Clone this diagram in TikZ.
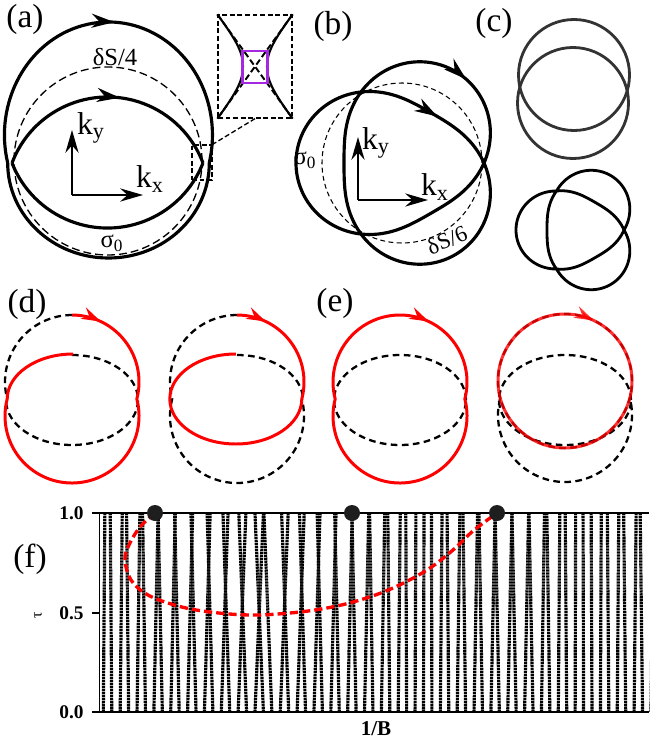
\documentclass[tikz,border=0pt]{standalone}
\usepackage{fontspec}
\setmainfont{Liberation Serif}
\usetikzlibrary{arrows.meta,decorations.markings}
\definecolor{cPurple}{RGB}{165,40,225}
\definecolor{cDot}{RGB}{30,30,30}
\tikzset{
  panlabel/.style={inner sep=0pt,font=\fontsize{19}{19}\selectfont},
  klabel/.style={inner sep=0pt,font=\fontsize{18}{18}\selectfont},
  arealabel/.style={inner sep=0pt,font=\fontsize{14}{14}\selectfont},
  fsline/.style={line width=1.8pt},
  fsdash/.style={line width=0.75pt,dash pattern=on 4.5pt off 2.3pt},
  fsdashthin/.style={line width=0.6pt,dash pattern=on 2.8pt off 1.9pt},
  kaxis/.style={-{Stealth[length=13pt,width=7.5pt]},line width=0.95pt},
  midarr/.style={postaction={decorate},decoration={markings,
      mark=at position #1 with {\arrow{Stealth[length=13pt,width=8pt]}}}},
  redarr/.style={postaction={decorate},decoration={markings,
      mark=at position #1 with {\arrow{Stealth[length=11pt,width=7pt]}}}},
  insetbox/.style={draw,rectangle,inner sep=0pt,line width=0.75pt,
                   dash pattern=on 2.8pt off 1.5pt},
  xdiag/.style={line width=1.1pt,dash pattern=on 3.5pt off 1.8pt},
  gapline/.style={line width=1.2pt},
  gapbox/.style={draw=cPurple,rectangle,inner sep=0pt,line width=1.5pt,
                 minimum width=0.5cm,minimum height=0.64cm},
  knotline/.style={line width=1.6pt},
  orbdash/.style={line width=1.3pt,dash pattern=on 3.8pt off 2.5pt},
  orbred/.style={red,line width=1.7pt},
  levelline/.style={line width=1.8pt,dash pattern=on 1.3pt off 0.4pt},
  plotaxis/.style={line width=0.95pt},
  ticklab/.style={inner sep=0pt,anchor=east,
                  font=\fontsize{11}{11}\selectfont\bfseries},
  guide/.style={red,line width=1.9pt,dash pattern=on 4.7pt off 2.3pt},
  bdot/.style={circle,fill=cDot,inner sep=0pt,minimum size=0.32cm}
}
\begin{document}
\begin{tikzpicture}[x=0.02cm,y=0.02cm]

  \useasboundingbox (0,0) rectangle (649,-743);

  \node[panlabel] (la) at (25,-19) {(a)};
  \draw[fsdash] (108,-161) circle[radius=94];
  \draw[fsline,midarr=0.515] (7.7,-163)
      arc[start angle=194.35,end angle=-14.35,x radius=104,y radius=113];
  \draw[fsline] (209.3,-163)
      arc[start angle=0,end angle=-180,x radius=100.8,y radius=95];
  \draw[fsline,midarr=0.55] (12,-163)
      arc[start angle=159.3,end angle=20.7,radius=102.1];
  \draw[fsline] (203,-163)
      arc[start angle=-21.5,end angle=-158.5,radius=102.65];
  \node[arealabel] (dsa) at (115,-57) {δS/4};
  \node[arealabel] (sga) at (112,-243) {σ\textsubscript{0}};

  \coordinate (kaO) at (72,-195);
  \coordinate (kaX) at (143,-195);
  \coordinate (kaY) at (72,-130);
  \draw[kaxis] (kaO) -- (kaX);
  \draw[kaxis] (kaO) -- (kaY);
  \node[klabel] (kya) at (91,-128) {k\textsubscript{y}};
  \node[klabel] (kxa) at (150,-179) {k\textsubscript{x}};

  \node[insetbox,minimum width=0.4cm,minimum height=0.7cm] (zoombox)
      at (202,-162.5) {};
  \node[insetbox,minimum width=1.48cm,minimum height=2.06cm] (inset)
      at (255,-66.5) {};
  \draw[insetbox] (inset.south) -- (zoombox.north east);
  \draw[xdiag] (inset.north west) -- (inset.south east);
  \draw[xdiag] (inset.north east) -- (inset.south west);
  \draw[gapline] (inset.north west) .. controls (236,-40) and (243,-52) ..
      (243,-66.5) .. controls (243,-81) and (236,-93) .. (inset.south west);
  \draw[gapline] (inset.north east) .. controls (274,-40) and (267,-52) ..
      (267,-66.5) .. controls (267,-81) and (274,-93) .. (inset.south east);
  \node[gapbox] (gap) at (255,-67) {};

  \node[panlabel] (lb) at (333,-26) {(b)};
  \draw[fsdashthin] (402,-163) circle[radius=80];
  \draw[fsline,midarr=0.855] plot[domain=0:-360,samples=361]
      ({402+(82+24*abs(sin(1.5*\x)))*cos(\x)},
       {-163+(82+24*abs(sin(1.5*\x)))*sin(\x)}) -- cycle;
  \draw[fsline,midarr=0.85] plot[domain=0:-360,samples=361]
      ({402+(82-24*abs(sin(1.5*\x)))*cos(\x)},
       {-163+(82-24*abs(sin(1.5*\x)))*sin(\x)}) -- cycle;
  \node[arealabel] (sgb) at (305,-160) {σ\textsubscript{0}};
  \node[arealabel,rotate=22,font=\fontsize{13}{13}\selectfont] (dsb)
      at (447,-240) {δS/6};

  \coordinate (kbO) at (358,-200);
  \coordinate (kbX) at (428,-200);
  \coordinate (kbY) at (358,-137);
  \draw[kaxis] (kbO) -- (kbX);
  \draw[kaxis] (kbO) -- (kbY);
  \node[klabel] (kyb) at (376,-143) {k\textsubscript{y}};
  \node[klabel] (kxb) at (435,-187) {k\textsubscript{x}};

  \node[panlabel] (lc) at (494,-23) {(c)};
  \draw[knotline,black!80] (574,-75) circle[radius=55.5];
  \draw[knotline,black!80] (573,-103) circle[radius=55.5];
  \draw[knotline] plot[domain=0:720,samples=721]
      ({579+(45+(sin(1.5*\x)>0 ? 18 : 13)*sin(1.5*\x))*cos(\x)},
       {-230+(45+(sin(1.5*\x)>0 ? 18 : 13)*sin(1.5*\x))*sin(\x)}) -- cycle;

  \node[panlabel] (ld) at (27,-304) {(d)};
  \draw[orbdash] (72,-315) arc[start angle=90,end angle=194.7,radius=67];
  \draw[orbdash] (72,-355)
      arc[start angle=90,end angle=-180,x radius=66,y radius=45];
  \draw[orbred,redarr=17pt] (72,-315)
      arc[start angle=90,end angle=-14.7,radius=67]
      arc[start angle=14.7,end angle=-194.7,radius=67]
      arc[start angle=180,end angle=90,x radius=66,y radius=45];

  \draw[orbdash] (237,-315) arc[start angle=90,end angle=194.7,radius=67];
  \draw[orbdash] (172.2,-399) arc[start angle=165.3,end angle=374.7,radius=67];
  \draw[orbdash] (237,-355)
      arc[start angle=90,end angle=0,x radius=66,y radius=45];
  \draw[orbred,redarr=17pt] (237,-315)
      arc[start angle=90,end angle=-14.7,radius=67]
      arc[start angle=0,end angle=-270,x radius=66,y radius=45];

  \node[panlabel] (le) at (335,-303) {(e)};
  \draw[orbdash] (400,-400) ellipse[x radius=66,y radius=45];
  \draw[orbred,redarr=17pt] (400,-315)
      arc[start angle=90,end angle=-14.7,radius=67]
      arc[start angle=14.7,end angle=-194.7,radius=67]
      arc[start angle=194.7,end angle=90,radius=67];

  \draw[orbdash] (565,-381) circle[radius=67];
  \draw[orbdash] (565,-400) ellipse[x radius=66,y radius=45];
  \draw[orbdash] (500.2,-398) arc[start angle=165.3,end angle=374.7,radius=67];
  \draw[orbred,opacity=0.8,redarr=17pt] (565,-314)
      arc[start angle=90,end angle=-270,radius=67];

  \node[panlabel] (lf) at (30,-559) {(f)};
  \foreach \m/\s in {0/0.09,1/0.12,2/0.17,3/0.25,4/0.27,5/0.3,6/0.34,
      7/0.4,8/0.46,9/0.5,10/-0.47,11/-0.42,12/-0.36,13/-0.31,14/-0.27,
      15/-0.25,16/-0.2,17/-0.12,18/-0.05,19/0.03,20/0.1,21/0.16,22/0.21,
      23/0.25,24/0.25,25/0.24,26/0.18,27/0.09,28/0.03,29/-0.05,30/-0.09,
      31/-0.12,32/-0.14}{
    \pgfmathsetmacro\cc{158.1+(\m-3)*16.85}
    \draw[levelline] (\cc-4.21,-712) -- (\cc-4.21+\s*16.85,-513);
    \draw[levelline] (\cc+4.21,-712) -- (\cc+4.21-\s*16.85,-513);
  }
  \draw[plotaxis] (92,-513) -- (649,-513);
  \draw[plotaxis] (92,-712) -- (649,-712);
  \draw[plotaxis] (99.5,-513) -- (99.5,-712);
  \draw[plotaxis] (92,-613) -- (99.5,-613);
  \node[ticklab] (t10) at (84,-513) {1.0};
  \node[ticklab] (t05) at (84,-613) {0.5};
  \node[ticklab] (t00) at (84,-712) {0.0};
  \node[inner sep=0pt,rotate=90,font=\fontsize{9}{9}\selectfont] (taulab)
      at (38,-615) {τ};
  \node[inner sep=0pt,font=\fontsize{12}{12}\selectfont\bfseries] (blab)
      at (376,-729) {1/B};

  \coordinate (pA) at (155,-513);
  \coordinate (pB) at (352,-513);
  \coordinate (pC) at (497,-513);
  \draw[guide] plot[smooth,tension=0.6] coordinates {(pA) (140,-527)
      (129,-545) (125,-560) (131,-580) (148,-595) (178,-606) (210,-612)
      (250,-615) (290,-613) (327,-608) (360,-600) (393,-588) (427,-570)
      (453,-550) (473,-531) (pC)};
  \node[bdot] (dotA) at (pA) {};
  \node[bdot] (dotB) at (pB) {};
  \node[bdot] (dotC) at (pC) {};

\end{tikzpicture}
\end{document}
